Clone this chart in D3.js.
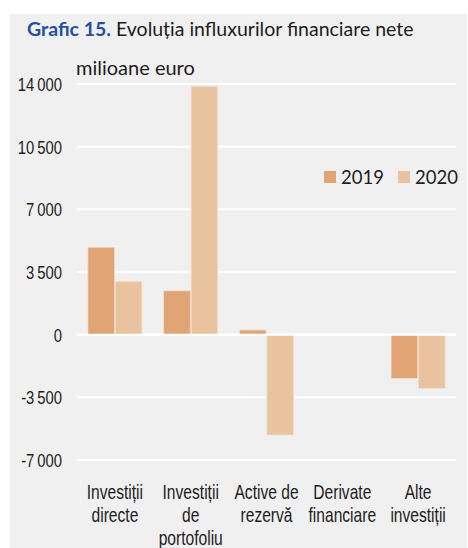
<!DOCTYPE html>
<html>
<head>
<meta charset="utf-8">
<script src="https://cdn.jsdelivr.net/npm/d3@7"></script>
<style>
  body { margin: 0; background: #fff; }
  svg { display: block; }
  .cond { font-family: "Liberation Sans", Arial, sans-serif; }
  .reg { font-family: "Lato", "Open Sans", sans-serif; }
</style>
</head>
<body>
<svg id="chart" width="468" height="548"></svg>
<script>
// categories + series
const categories = ["Investiții directe", "Investiții de portofoliu", "Active de rezervă", "Derivate financiare", "Alte investiții"];
const categoryLines = [["Investiții", "directe"], ["Investiții", "de", "portofoliu"], ["Active de", "rezervă"], ["Derivate", "financiare"], ["Alte", "investiții"]];
const series = ["2019", "2020"];
const values2019 = [4880, 2450, 260, 0, -2450];
const values2020 = [2960, 13870, -5600, 0, -2990];
const yTicks = [-7000, -3500, 0, 3500, 7000, 10500, 14000];
const colors = ["#e0a475", "#e9c39f"];

// narrow look: the condensed text is squeezed horizontally
const squeeze = 0.78;

const svg = d3.select('#chart');

// gray panel
svg.append("rect")
    .attr("x", 10).attr("y", 14)
    .attr("width", 457).attr("height", 540)
    .attr("fill", "#f0f0f0");

// title
var title = svg.append("text")
    .attr("class", "reg")
    .attr("x", 27).attr("y", 36)
    .attr("font-size", 19.5)
    .attr("fill", "#1e1c1d");
title.append("tspan").attr("font-weight", "bold").attr("fill", "#2350a0").text("Grafic 15.");
title.append("tspan").text(" Evoluția influxurilor financiare nete");

svg.append("text")
    .attr("class", "reg")
    .attr("x", 76).attr("y", 75)
    .attr("font-size", 20)
    .attr("fill", "#1e1c1d")
    .text("milioane euro");

// scales
var x0 = d3.scaleBand().domain(categories).range([77, 456]).paddingInner(0.288).paddingOuter(0.144);
var x1 = d3.scaleBand().domain(series).range([0, x0.bandwidth()]).paddingInner(0.03);
var y = d3.scaleLinear().domain([-7000, 14000]).range([460, 84]);

const fmt = (v) => d3.format(",")(v).replace(/,/g, "\u2009").replace("\u2212", "-");

// gridlines
svg.append("g")
    .selectAll("line")
    .data(yTicks)
    .enter().append("line")
    .attr("x1", 77).attr("x2", 456)
    .attr("y1", (d) => y(d)).attr("y2", (d) => y(d))
    .attr("stroke", "#fff").attr("stroke-width", 2);

// left axis labels (axis used for placement, then squeezed)
var yAxis = d3.axisLeft(y).tickValues(yTicks).tickSize(0).tickPadding(0).tickFormat(fmt);
var gy = svg.append("g")
    .attr("transform", "translate(62,0)")
    .call(yAxis);
gy.select(".domain").remove();
gy.selectAll(".tick")
    .attr("transform", (d) => "translate(0," + y(d) + ") scale(" + squeeze + ",1)");
gy.selectAll("text")
    .attr("class", "cond")
    .attr("font-size", 19)
    .attr("dy", "0.36em")
    .attr("fill", "#1e1c1d");

// bars
var rows = categories.map((c, i) => ({ cat: c, vals: [values2019[i], values2020[i]] }));
var groups = svg.append("g").selectAll("g")
    .data(rows)
    .enter().append("g")
    .attr("transform", (d) => "translate(" + x0(d.cat) + ",0)");

groups.selectAll("rect")
    .data((d) => d.vals.map((v, j) => ({ s: series[j], v: v, j: j })))
    .enter().append("rect")
    .attr("x", (d) => x1(d.s))
    .attr("width", x1.bandwidth())
    .attr("y", (d) => y(Math.max(0, d.v)))
    .attr("height", (d) => Math.abs(y(d.v) - y(0)))
    .attr("fill", (d) => colors[d.j])
    .attr("stroke", "#f3dccb")
    .attr("stroke-width", 0.8);

// zero line over the bars
svg.append("line")
    .attr("x1", 77).attr("x2", 456)
    .attr("y1", y(0)).attr("y2", y(0))
    .attr("stroke", "#fff").attr("stroke-width", 2);

// category labels
var xl = svg.append("g").selectAll("g")
    .data(categories)
    .enter().append("g")
    .attr("transform", (d) => "translate(" + (x0(d) + x0.bandwidth() / 2) + ",499) scale(" + squeeze + ",1)")
    .append("text")
    .attr("class", "cond")
    .attr("text-anchor", "middle")
    .attr("font-size", 20)
    .attr("fill", "#1e1c1d");
xl.selectAll("tspan")
    .data((d, i) => categoryLines[i])
    .enter().append("tspan")
    .attr("x", 0)
    .attr("dy", (d, i) => i === 0 ? 0 : 23)
    .text((d) => d);

// legend
var legend = svg.append("g").selectAll("g")
    .data(series)
    .enter().append("g")
    .attr("transform", (d, i) => "translate(" + (324 + i * 74) + ",171)");
legend.append("rect")
    .attr("width", 12).attr("height", 12)
    .attr("fill", (d, i) => colors[i]);
legend.append("text")
    .attr("class", "reg")
    .attr("x", 17).attr("y", 13)
    .attr("font-size", 18.5)
    .attr("fill", "#1e1c1d")
    .text((d) => d);
</script>
</body>
</html>
